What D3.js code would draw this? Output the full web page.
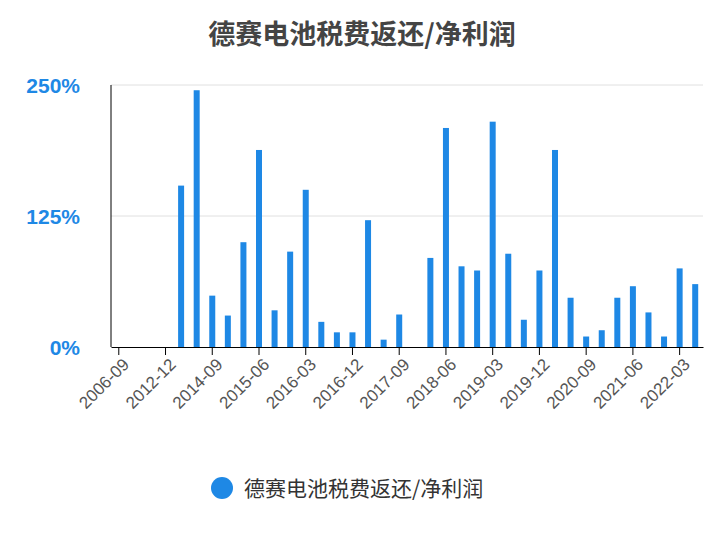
<!DOCTYPE html>
<html><head><meta charset="utf-8">
<script src="https://cdn.jsdelivr.net/npm/d3@7"></script>
<style>body{margin:0;background:#fff;font-family:"Noto Sans CJK SC","Noto Sans",sans-serif}</style>
</head><body><svg id="chart" width="724" height="540"></svg>
<script>
const categories = ['2006-09','2008-12','2010-12','2012-12','2013-12','2014-06',
  '2014-09','2014-12','2015-03','2015-06','2015-09','2015-12','2016-03','2016-06','2016-09','2016-12',
  '2017-03','2017-06','2017-09','2017-12','2018-03','2018-06','2018-09','2018-12','2019-03','2019-06',
  '2019-09','2019-12','2020-03','2020-06','2020-09','2020-12','2021-03','2021-06','2021-09','2021-12',
  '2022-03','2022-06'];
const values = [null,null,null,null,154,245,49,30,100,188,35,91,150,24,14,14,121,7,31,null,
  85,209,77,73,215,89,26,73,188,47,10,16,47,58,33,10,75,60];
const yTicks = [0,125,250];
const seriesName = '德赛电池税费返还/净利润';
const title = '德赛电池税费返还/净利润';
const color = '#1e88e5';

const svg = d3.select('#chart');
const pl = 111, pr = 703, pt = 85, pb = 347;

const x = d3.scaleBand().domain(categories).range([pl, pr]);
const y = d3.scaleLinear().domain([0, 250]).range([pb, pt]);

svg.append('text').attr('x', 362).attr('y', 44).attr('text-anchor', 'middle')
  .style('font-size', '27px').style('font-weight', 'bold').attr('fill', '#444').text(title);

svg.append('g').selectAll('line').data(yTicks.filter(d => d > 0)).join('line')
  .attr('x1', pl).attr('x2', pr).attr('y1', d => y(d)).attr('y2', d => y(d))
  .attr('stroke', '#e0e0e0');

svg.append('g').selectAll('text').data(yTicks).join('text')
  .attr('x', 80).attr('y', d => y(d) + 8).attr('text-anchor', 'end')
  .style('font-size', '21px').style('font-weight', 'bold').attr('fill', color)
  .style('font-family', 'Liberation Sans, Arial, sans-serif')
  .text(d => d + '%');

svg.append('g').selectAll('rect').data(categories.map((c, i) => [c, values[i]]).filter(d => d[1] != null)).join('rect')
  .attr('x', d => x(d[0]) + x.bandwidth() / 2 - 3).attr('width', 6)
  .attr('y', d => y(d[1])).attr('height', d => pb - y(d[1])).attr('fill', color);

svg.append('line').attr('x1', pl).attr('x2', pl).attr('y1', pt).attr('y2', pb).attr('stroke', '#000');

const xa = svg.append('g').attr('transform', `translate(0,${pb})`)
  .call(d3.axisBottom(x).tickValues(categories.filter((d, i) => i % 3 === 0)).tickSize(8).tickSizeOuter(0));
xa.select('.domain').attr('stroke', '#000');
xa.selectAll('.tick line').attr('stroke', '#000');
xa.selectAll('text').attr('text-anchor', 'end').attr('dx', '-0.3em').attr('dy', '0.6em')
  .attr('transform', 'rotate(-45)').style('font-size', '17px').attr('fill', '#555')
  .style('font-family', 'Liberation Sans, Arial, sans-serif');

const lg = svg.append('g').attr('transform', 'translate(222,488)');
lg.append('circle').attr('r', 11).attr('fill', color);
lg.append('text').attr('x', 22).attr('y', 8).style('font-size', '21px').attr('fill', '#333').text(seriesName);
</script></body></html>
